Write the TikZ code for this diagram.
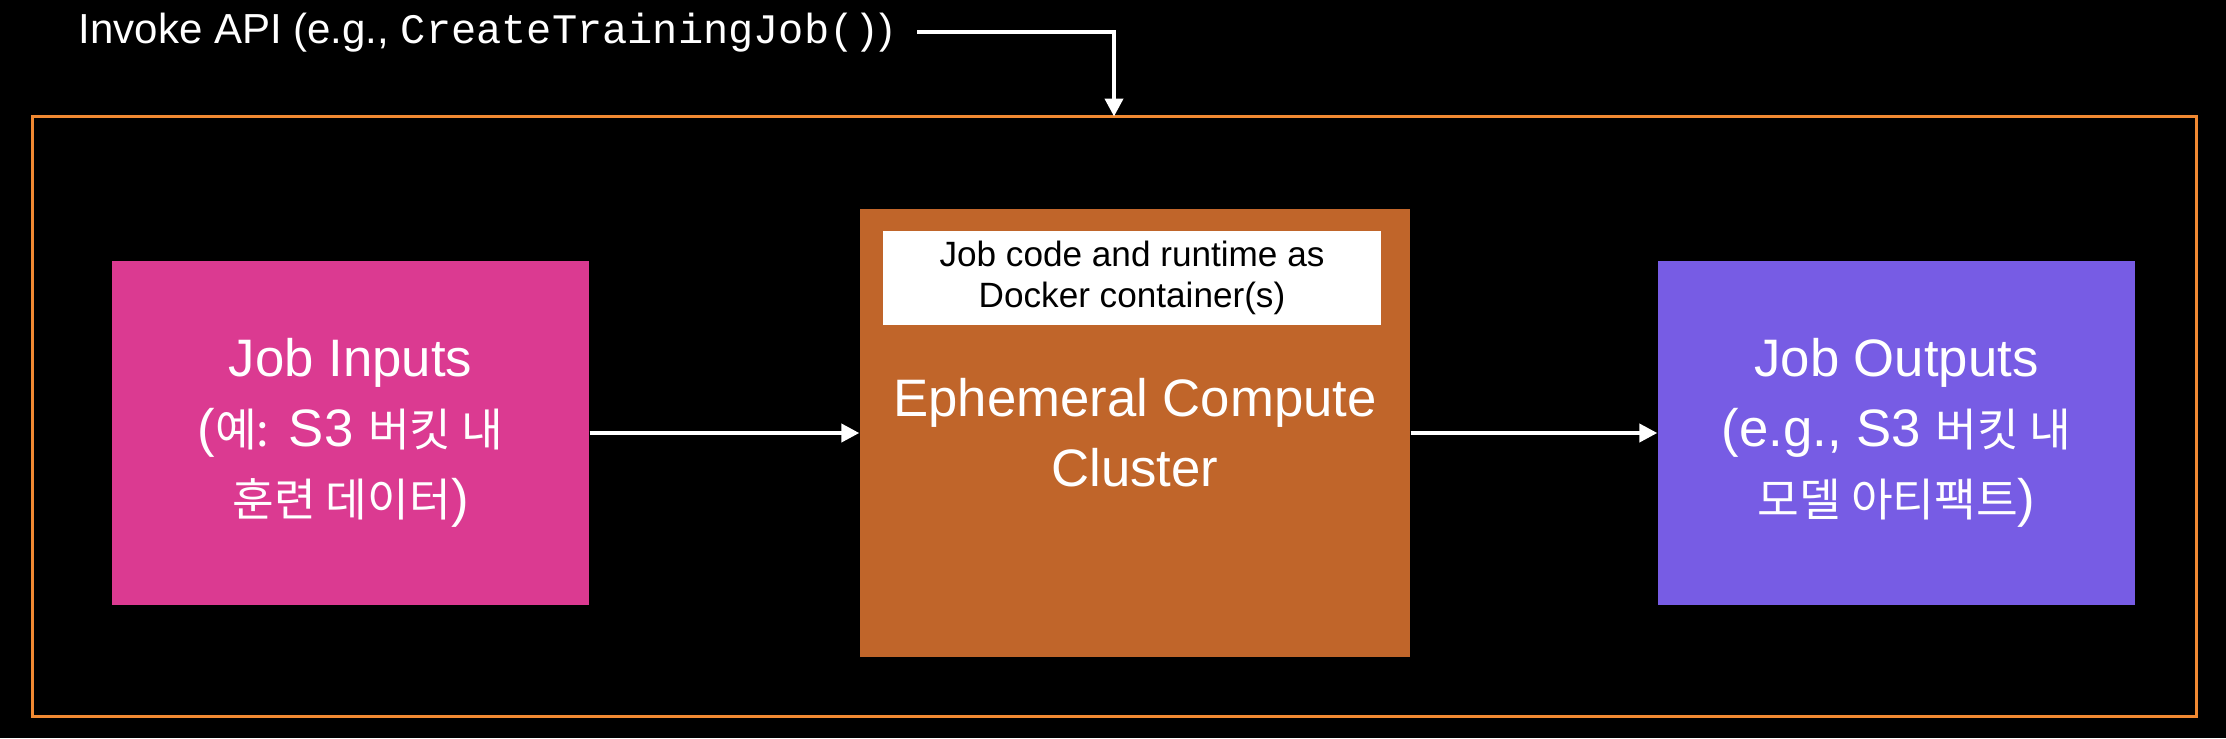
\documentclass[tikz,border=0pt]{standalone}
\usepackage{fontspec}
\setmainfont{Liberation Sans}
\setmonofont{Liberation Mono}
\newfontfamily\krfont{Noto Sans CJK KR}[Scale=0.86]
\usetikzlibrary{arrows.meta}

\definecolor{framecol}{RGB}{240,137,50}
\definecolor{inputcol}{RGB}{219,58,145}
\definecolor{clustercol}{RGB}{192,101,42}
\definecolor{outputcol}{RGB}{119,92,228}

\begin{document}
\begin{tikzpicture}
    \fill[black] (0,0) rectangle (22.26,7.38);
    \useasboundingbox (0,0) rectangle (22.26,7.38);

    \node (frame) [draw=framecol, line width=0.85pt, minimum width=21.64cm, minimum height=6cm] at (11.145,3.215) {};

    \node (api) [anchor=base west, inner sep=0pt, text=white, font=\fontsize{11.95}{14}\selectfont] at (0.78,6.95)
        {Invoke API (e.g., \texttt{CreateTrainingJob()})};
    \coordinate (apiDrop) at (11.14,6.215);

    \begin{scope}[every node/.style={text=white, align=center, inner sep=0pt, font=\fontsize{15}{19.9}\selectfont}]
        \node (inputs)  [fill=inputcol,   minimum width=4.77cm, minimum height=3.44cm] at (3.505,3.05)
            {Job Inputs\\({\krfont 예:} S3 {\krfont 버킷 내}\\{\krfont 훈련 데이터})};
        \node (cluster) [fill=clustercol, minimum width=5.50cm, minimum height=4.48cm] at (11.35,3.05)
            {Ephemeral Compute\\Cluster};
        \node (outputs) [fill=outputcol,  minimum width=4.77cm, minimum height=3.44cm] at (18.965,3.05)
            {Job Outputs\\(e.g., S3 {\krfont 버킷 내}\\{\krfont 모델 아티팩트})};
        \node (container) [fill=white, text=black, minimum width=4.98cm, minimum height=0.94cm,
                           font=\fontsize{10}{11.7}\selectfont] at (11.32,4.60)
            {Job code and runtime as\\Docker container(s)};
    \end{scope}

    % White arrows between the boxes
    \begin{scope}[>={Triangle[length=5.1pt,width=5.1pt]},
                  every edge/.style={draw=white, line width=1.15pt}]
        \path [->] (inputs) edge (cluster);
        \path [->] (cluster) edge (outputs);
    \end{scope}

    % API call into the frame
    \draw [white, line width=1.15pt, -{Triangle[length=5.1pt,width=5.1pt]}] ([xshift=0.23cm]api.east) -| (apiDrop);
\end{tikzpicture}
\end{document}
